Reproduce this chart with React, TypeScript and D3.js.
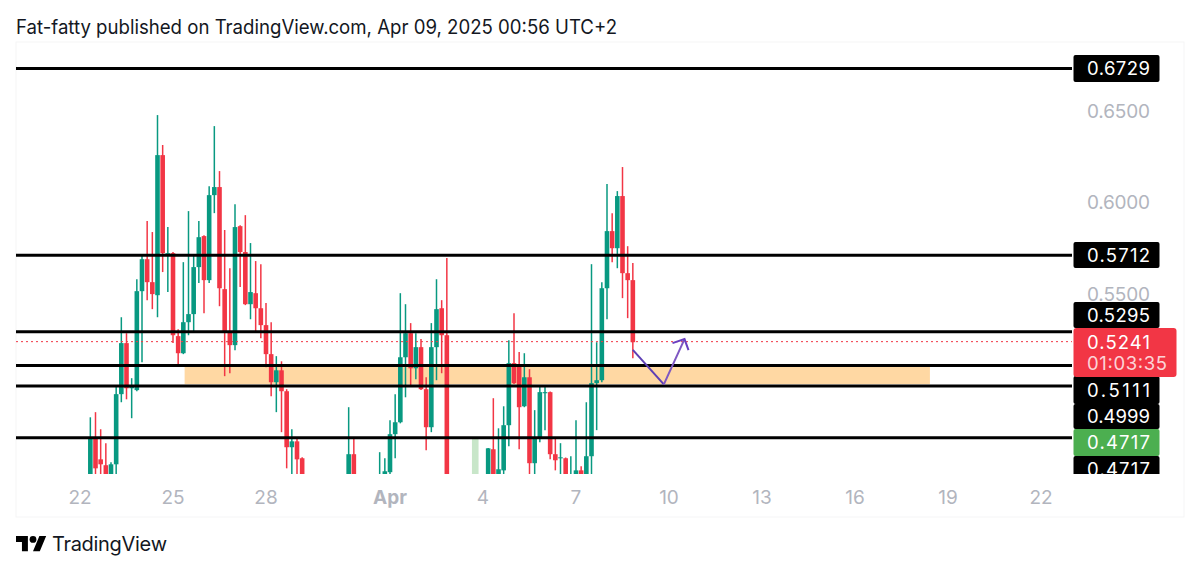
import * as d3 from 'd3'

// open, high, low, close (4h bars from Mar 22 08:00); bars under the cropped bottom edge are rough guesses
const candles: number[][] = [
  [.4486,.4829,.4432,.4720],[.4715,.4857,.4486,.4551],[.4600,.4764,.4486,.4573],[.4568,.4688,.4432,.4486],
  [.4486,.4584,.4459,.4573],[.4573,.5004,.4486,.4955],[.4955,.5374,.4911,.5233],[.5233,.5287,.4927,.4987],
  [.4987,.5042,.4824,.4998],[.4977,.5581,.4971,.5516],[.5516,.5707,.5129,.5690],[.5690,.5898,.5467,.5565],
  [.5565,.5838,.5418,.5500],[.5494,.6475,.5374,.6257],[.6257,.6312,.5620,.5723],[.5707,.5865,.5511,.5723],
  [.5723,.5729,.5233,.5276],[.5271,.5309,.5107,.5178],[.5178,.5674,.5173,.5347],[.5347,.5952,.5276,.5391],
  [.5391,.5718,.5293,.5647],[.5647,.5898,.5560,.5810],[.5816,.5820,.5396,.5576],[.5576,.6088,.5560,.6039],
  [.6039,.6415,.5941,.6083],[.6083,.6170,.5434,.5532],[.5527,.5849,.5053,.5293],[.5293,.5641,.5069,.5222],
  [.5222,.5990,.5194,.5865],[.5870,.5875,.5538,.5729],[.5729,.5930,.5440,.5445],[.5445,.5778,.5363,.5511],
  [.5505,.5680,.5293,.5423],[.5423,.5663,.5260,.5331],[.5331,.5451,.5102,.5173],[.5173,.5347,.4944,.5020],
  [.5020,.5162,.4857,.5085],[.5085,.5134,.4748,.4971],[.4971,.4982,.4551,.4666],[.4666,.4764,.4486,.4698],
  [.4698,.4720,.4486,.4600],[.4606,.4611,.4432,.4486],[.4486,.4500,.4420,.4440],[.4440,.4480,.4380,.4400],
  [.4400,.4460,.4370,.4430],[.4430,.4490,.4400,.4470],[.4470,.4500,.4410,.4420],[.4420,.4470,.4390,.4450],
  [.4450,.4490,.4420,.4440],[.4440,.4480,.4410,.4470],[.4470,.4884,.4432,.4628],[.4628,.4720,.4432,.4486],
  [.4486,.4505,.4420,.4450],[.4450,.4490,.4400,.4420],[.4420,.4480,.4390,.4460],[.4460,.4500,.4430,.4470],
  [.4470,.4639,.4440,.4490],[.4486,.4606,.4450,.4535],[.4530,.4813,.4486,.4737],[.4737,.4955,.4606,.4802],
  [.4802,.5505,.4796,.5156],[.5156,.5445,.4938,.5287],[.5287,.5342,.4998,.5096],[.5096,.5287,.5036,.5211],
  [.5211,.5255,.4978,.4982],[.4982,.5047,.4650,.4775],[.4775,.5342,.4748,.5211],[.5211,.5581,.5031,.5418],
  [.5423,.5467,.5069,.5276],[.5276,.5696,.4432,.4486],[.4486,.4500,.4380,.4420],[.4420,.4470,.4370,.4400],
  [.4400,.4450,.4360,.4430],[.4430,.4480,.4400,.4460],[.4460,.4500,.4420,.4440],[.4440,.4490,.4410,.4470],
  [.4470,.4500,.4430,.4486],[.4486,.4662,.4440,.4660],[.4655,.4933,.4432,.4486],[.4486,.4769,.4440,.4546],
  [.4540,.4889,.4486,.4786],[.4786,.5249,.4671,.5124],[.5124,.5396,.5010,.5015],[.5118,.5184,.4655,.4884],
  [.4889,.5178,.4884,.5047],[.5047,.5091,.4486,.4579],[.4579,.4868,.4486,.4720],[.4720,.5004,.4693,.4966],
  [.4960,.5004,.4759,.4966],[.4966,.4970,.4600,.4628],[.4628,.4720,.4540,.4595],[.4606,.4688,.4486,.4611],
  [.4606,.4610,.4459,.4486],[.4470,.4617,.4440,.4490],[.4486,.4813,.4450,.4540],[.4540,.4562,.4450,.4486],
  [.4486,.4911,.4450,.4617],[.4617,.5663,.4486,.5015],[.5015,.5238,.4759,.5031],[.5031,.5565,.5020,.5532],
  [.5532,.6099,.5363,.5843],[.5843,.5941,.5674,.5750],[.5750,.6061,.5641,.6034],[.6034,.6192,.5478,.5614],
  [.5614,.5761,.5369,.5576],[.5576,.5669,.5151,.5238],
]

const levels = [0.6729, 0.5712, 0.5295, 0.5111, 0.4999, 0.4717]
const priceTicks = [0.65, 0.6, 0.55]
const lastPrice = 0.5241
const countdown = '01:03:35'
const zone = { from: new Date(Date.UTC(2025, 2, 25, 9)), to: new Date(Date.UTC(2025, 3, 18, 10)), top: 0.5107, bottom: 0.5009 }
const arrowPath: [Date, number][] = [
  [new Date(Date.UTC(2025, 3, 8, 20)), 0.5196],
  [new Date(Date.UTC(2025, 3, 9, 20)), 0.5008],
  [new Date(Date.UTC(2025, 3, 10, 12)), 0.5255],
]
const ghostBar = { date: new Date(Date.UTC(2025, 3, 3, 18)), top: 0.4715 }
const dateTicks: [Date, string][] = [
  [new Date(Date.UTC(2025, 2, 22)), '22'],
  [new Date(Date.UTC(2025, 2, 25)), '25'],
  [new Date(Date.UTC(2025, 2, 28)), '28'],
  [new Date(Date.UTC(2025, 3, 1)), 'Apr'],
  [new Date(Date.UTC(2025, 3, 4)), '4'],
  [new Date(Date.UTC(2025, 3, 7)), '7'],
  [new Date(Date.UTC(2025, 3, 10)), '10'],
  [new Date(Date.UTC(2025, 3, 13)), '13'],
  [new Date(Date.UTC(2025, 3, 16)), '16'],
  [new Date(Date.UTC(2025, 3, 19)), '19'],
  [new Date(Date.UTC(2025, 3, 22)), '22'],
]
// price-scale tags, pushed apart the way TradingView stacks them
const tags = [
  { text: '0.6729', top: 55, h: 27, fill: '#000' },
  { text: '0.5712', top: 242, h: 26, fill: '#000' },
  { text: '0.5295', top: 302, h: 26, fill: '#000' },
  { text: '0.5111', top: 376, h: 28, fill: '#000' },
  { text: '0.4999', top: 404, h: 25, fill: '#000' },
  { text: '0.4717', top: 429, h: 27, fill: '#4caf50' },
  { text: '0.4717', top: 456, h: 26, fill: '#000' },
]

const UP = '#089981'
const DOWN = '#f23645'
const FONT = 'Inter, Roboto, sans-serif'

const W = 1200, H = 572
const x = d3.scaleUtc().domain([new Date(Date.UTC(2025, 2, 22)), new Date(Date.UTC(2025, 3, 22))]).range([80, 1041])
const y = d3.scaleLinear().domain([0.65, 0.6]).range([110.5, 202.3])
const barTime = (i: number) => new Date(Date.UTC(2025, 2, 22, 8 + i * 4))
const arrowLine = d3.line<[Date, number]>().x(d => x(d[0])).y(d => y(d[1]))

export default function App() {
  const [a, b, c] = arrowPath
  const tipX = x(c[0]), tipY = y(c[1])
  return (
    <div style={{ position: 'absolute', left: 0, top: 0, width: W, height: H, background: '#fff' }}>
      <svg width={W} height={H} viewBox={`0 0 ${W} ${H}`} style={{ display: 'block' }} fontFamily={FONT}>
        <defs>
          <clipPath id="pane"><rect x={16} y={0} width={1145} height={474} /></clipPath>
        </defs>
        <rect width={W} height={H} fill="#fff" />
        <rect x={16} y={42} width={1168} height={475} fill="none" stroke="#f5f5f6" />

        <text x={16} y={34} fontSize={19.5} fill="#131722" textLength={601} lengthAdjust="spacingAndGlyphs">
          Fat-fatty published on TradingView.com, Apr 09, 2025 00:56 UTC+2
        </text>

        {priceTicks.map(p => (
          <text key={p} x={1087} y={y(p) + 7} fontSize={19} fill="#b2b5be" textLength={63}>{p.toFixed(4)}</text>
        ))}

        <rect x={x(zone.from)} y={y(zone.top)} width={x(zone.to) - x(zone.from)} height={y(zone.bottom) - y(zone.top)} fill="#ffd8a3" />

        <g clipPath="url(#pane)">
          <rect x={x(ghostBar.date) - 3.3} y={y(ghostBar.top)} width={6.6} height={474 - y(ghostBar.top)} fill="#c8e6c9" />
          {candles.map((d, i) => {
            const [open, high, low, close] = d
            const cx = x(barTime(i))
            const col = close >= open ? UP : DOWN
            const top = y(Math.max(open, close))
            const bot = y(Math.min(open, close))
            return (
              <g key={i}>
                <line x1={cx} x2={cx} y1={y(high)} y2={y(low)} stroke={col} strokeWidth={1.5} />
                <rect x={cx - 2.3} y={top} width={4.6} height={Math.max(bot - top, 1)} fill={col} />
              </g>
            )
          })}
        </g>

        {levels.map(l => (
          <line key={l} x1={16} x2={1072} y1={y(l)} y2={y(l)} stroke="#000" strokeWidth={3} />
        ))}
        <line x1={16} x2={1072} y1={y(lastPrice)} y2={y(lastPrice)} stroke={DOWN} strokeWidth={1} strokeDasharray="2 3" />

        <path d={arrowLine([a, b]) ?? ''} fill="none" stroke="#5e3fb5" strokeWidth={2} />
        <path d={arrowLine([b, c]) ?? ''} fill="none" stroke="#7e57c2" strokeWidth={2} />
        <path d={`M${tipX - 12},${tipY + 4}L${tipX},${tipY}L${tipX + 4},${tipY + 11}`} fill="none" stroke="#6a3fc0" strokeWidth={2} />

        {dateTicks.map(([d, label], i) => (
          <text key={i} x={x(d)} y={504} fontSize={19} fill="#b2b5be" textAnchor="middle" fontWeight={label === 'Apr' ? 700 : 400}>{label}</text>
        ))}

        <g clipPath="url(#pane)">
          {tags.map((t, i) => (
            <g key={i}>
              <rect x={1073.5} y={t.top} width={86} height={t.h} rx={2} fill={t.fill} />
              <text x={1087} y={t.top + t.h / 2 + 6.5} fontSize={18.5} fill="#fff" textLength={63}>{t.text}</text>
            </g>
          ))}
        </g>
        <rect x={1073.5} y={328} width={103} height={49} rx={3} fill={DOWN} />
        <text x={1087} y={348.5} fontSize={18.5} fill="#fff" textLength={63}>{lastPrice.toFixed(4)}</text>
        <text x={1087} y={369.5} fontSize={18.5} fill="#fff" fillOpacity={0.8} textLength={80}>{countdown}</text>

        <g transform="translate(16,532.6) scale(0.85)" fill="#000">
          <path d="M14 22H7V11H0V4h14v18zM28 22h-8l7.5-18h8L28 22z" />
          <circle cx={20} cy={8} r={4} />
        </g>
        <text x={52} y={551} fontSize={20} fill="#131722" textLength={115}>TradingView</text>
      </svg>
    </div>
  )
}
